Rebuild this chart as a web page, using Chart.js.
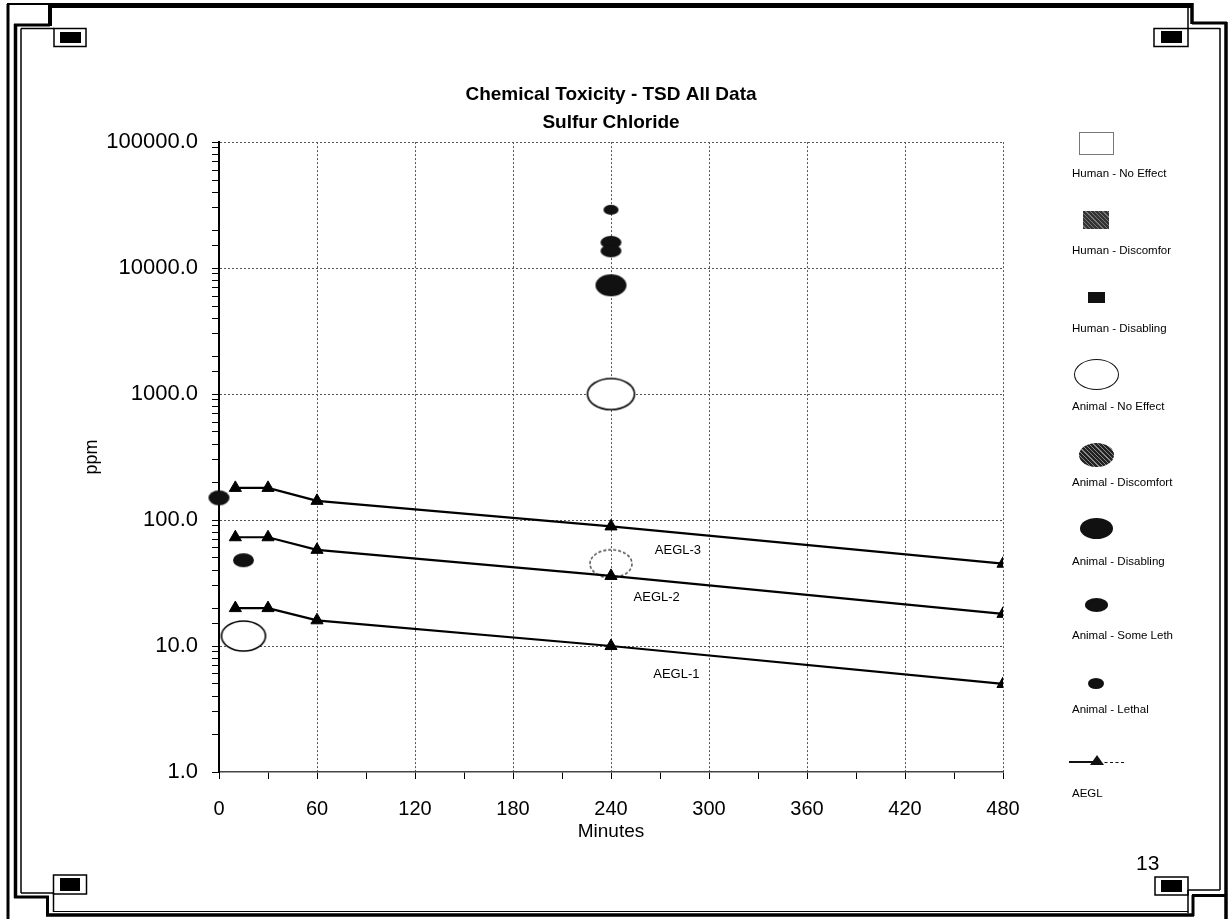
<!DOCTYPE html>
<html>
<head>
<meta charset="utf-8">
<title>Chemical Toxicity - TSD All Data</title>
<script src="https://cdn.jsdelivr.net/npm/chart.js@4.4.1/dist/chart.umd.min.js"></script>
<style>
  html, body { margin: 0; padding: 0; background: #fff; }
  body { width: 1230px; height: 919px; position: relative; overflow: hidden; font-family: Arial, "Liberation Sans", sans-serif; }
  #toxChart { position: absolute; left: 0; top: 0; }
  #frame { position: absolute; left: 0; top: 0; pointer-events: none; }
  .lg-text { position: absolute; left: 1072px; font-size: 11.5px; color: #000; white-space: nowrap; transform: translateY(-50%); }
  .lg-mark { position: absolute; box-sizing: border-box; }
  #pageNo { position: absolute; left: 1136px; top: 851px; font-size: 21px; }
</style>
</head>
<body>
<canvas id="toxChart" width="1230" height="919"></canvas>

<!-- legend (icon above label, like the original) -->
<div class="lg-mark" style="left:1079px;top:132px;width:35px;height:23px;border:1px solid #777;"></div>
<div class="lg-text" style="top:173px;">Human - No Effect</div>
<div class="lg-mark" style="left:1083px;top:211px;width:26px;height:18px;background:repeating-linear-gradient(45deg,#333 0 2px,#777 2px 3px);"></div>
<div class="lg-text" style="top:250px;">Human - Discomfor</div>
<div class="lg-mark" style="left:1088px;top:292px;width:17px;height:11px;background:#111;"></div>
<div class="lg-text" style="top:328px;">Human - Disabling</div>
<div class="lg-mark" style="left:1074px;top:359px;width:45px;height:31px;border:1.5px solid #111;border-radius:50%;"></div>
<div class="lg-text" style="top:406px;">Animal - No Effect</div>
<div class="lg-mark" style="left:1079px;top:443px;width:35px;height:24px;border-radius:50%;background:repeating-linear-gradient(45deg,#222 0 2px,#888 2px 3px);"></div>
<div class="lg-text" style="top:482px;">Animal - Discomfort</div>
<div class="lg-mark" style="left:1080px;top:518px;width:33px;height:21px;border-radius:50%;background:#111;"></div>
<div class="lg-text" style="top:561px;">Animal - Disabling</div>
<div class="lg-mark" style="left:1085px;top:598px;width:23px;height:14px;border-radius:50%;background:#111;"></div>
<div class="lg-text" style="top:635px;">Animal - Some Leth</div>
<div class="lg-mark" style="left:1088px;top:678px;width:16px;height:11px;border-radius:50%;background:#111;"></div>
<div class="lg-text" style="top:709px;">Animal - Lethal</div>
<div class="lg-mark" style="left:1069px;top:761px;width:30px;height:2px;background:#111;"></div>
<div class="lg-mark" style="left:1099px;top:762px;width:25px;height:0;border-top:1px dashed #111;"></div>
<div class="lg-mark" style="left:1090px;top:755px;width:0;height:0;border-left:7px solid transparent;border-right:7px solid transparent;border-bottom:10px solid #111;"></div>
<div class="lg-text" style="top:793px;">AEGL</div>

<div id="pageNo">13</div>

<!-- slide frame -->
<svg id="frame" width="1230" height="919" xmlns="http://www.w3.org/2000/svg" fill="none" stroke="#000">
  <!-- top left -->
  <line x1="8" y1="4" x2="8" y2="919" stroke-width="3"/>
  <line x1="7" y1="4" x2="50" y2="4" stroke-width="2"/>
  <line x1="50" y1="5.5" x2="1193" y2="5.5" stroke-width="5"/>
  <line x1="50" y1="3" x2="50" y2="26" stroke-width="4"/>
  <line x1="14" y1="25" x2="50" y2="25" stroke-width="3"/>
  <line x1="15.5" y1="24" x2="15.5" y2="898" stroke-width="3.5"/>
  <line x1="21" y1="28.5" x2="21" y2="893" stroke-width="1.5"/>
  <line x1="21" y1="28.5" x2="54" y2="28.5" stroke-width="1.5"/>
  <rect x="54" y="28.5" width="32" height="18" stroke-width="1.5"/>
  <rect x="60" y="32" width="21" height="11" fill="#000" stroke="none"/>
  <!-- top right -->
  <line x1="1192" y1="3" x2="1192" y2="24" stroke-width="3.5"/>
  <line x1="1192" y1="23" x2="1227" y2="23" stroke-width="3"/>
  <line x1="1226" y1="22" x2="1226" y2="919" stroke-width="3.5"/>
  <line x1="1188" y1="6" x2="1188" y2="28.5" stroke-width="1.5"/>
  <line x1="1188" y1="28.5" x2="1220" y2="28.5" stroke-width="1.5"/>
  <line x1="1220" y1="28" x2="1220" y2="890" stroke-width="1.5"/>
  <rect x="1154" y="28.5" width="34" height="18" stroke-width="1.5"/>
  <rect x="1161" y="31" width="21" height="12" fill="#000" stroke="none"/>
  <!-- bottom left -->
  <line x1="14" y1="897" x2="49" y2="897" stroke-width="3"/>
  <line x1="47.5" y1="896" x2="47.5" y2="916" stroke-width="3"/>
  <line x1="46" y1="915" x2="1194" y2="915" stroke-width="3.5"/>
  <line x1="21" y1="893" x2="54" y2="893" stroke-width="1.5"/>
  <line x1="53.5" y1="893" x2="53.5" y2="912" stroke-width="1.5"/>
  <line x1="53" y1="911.5" x2="1188" y2="911.5" stroke-width="1"/>
  <rect x="53.5" y="875" width="33" height="19" stroke-width="1.5"/>
  <rect x="60" y="878" width="20" height="13" fill="#000" stroke="none"/>
  <!-- bottom right -->
  <line x1="1193" y1="916" x2="1193" y2="895" stroke-width="3"/>
  <line x1="1192" y1="895.5" x2="1227" y2="895.5" stroke-width="3"/>
  <line x1="1188" y1="890" x2="1220" y2="890" stroke-width="1.5"/>
  <line x1="1188" y1="890" x2="1188" y2="913" stroke-width="1.5"/>
  <rect x="1155" y="877" width="33" height="18" stroke-width="1.5"/>
  <rect x="1161" y="880" width="21" height="12" fill="#000" stroke="none"/>
</svg>

<script>
// ====== Data ======
const aeglMinutes = [10, 30, 60, 240, 480];
const aegl1 = [20, 20, 16, 10, 5];
const aegl2 = [73, 73, 58, 36, 18];
const aegl3 = [180, 180, 142, 89, 45];

const noEffectMinutes = [15, 240, 240];
const noEffectPpm = [12, 1000, 45];
const disablingMinutes = [15, 240];
const disablingPpm = [48, 7300];
const someLethalMinutes = [0, 240, 240];
const someLethalPpm = [150, 16000, 13700];
const lethalMinutes = [240];
const lethalPpm = [29000];

const xTickValues = [0, 60, 120, 180, 240, 300, 360, 420, 480];
const aeglLabels = ["AEGL-3", "AEGL-2", "AEGL-1"];
const aeglLabelMinutes = [281, 268, 280];
const aeglLabelPpm = [57, 24.5, 6];

// ====== Helpers ======
const FONT = 'Arial, "Liberation Sans", sans-serif';
const toPoints = (xs, ys) => xs.map((x, i) => ({ x, y: ys[i] }));
const isPow10 = (v) => Math.abs(Math.log10(v) - Math.round(Math.log10(v))) < 1e-9;

// ellipse markers (Chart.js only has circles)
function ellipseMarker(w, h, fill, stroke, dashed) {
  const c = document.createElement("canvas");
  c.width = w + 4;
  c.height = h + 4;
  const g = c.getContext("2d");
  g.beginPath();
  g.ellipse(c.width / 2, c.height / 2, w / 2, h / 2, 0, 0, Math.PI * 2);
  if (fill) { g.fillStyle = fill; g.fill(); }
  if (stroke) {
    g.lineWidth = 1.6;
    g.strokeStyle = stroke;
    if (dashed) g.setLineDash([3, 2]);
    g.stroke();
  }
  return c;
}

const noEffectMarks = [
  ellipseMarker(44, 30, "#fff", "#000"),
  ellipseMarker(47, 31, "#fff", "#000"),
  ellipseMarker(42, 28, null, "#555", true),
];
const disablingMarks = [ellipseMarker(21, 14, "#111"), ellipseMarker(31, 22, "#111")];
const someLethalMarks = [ellipseMarker(21, 15, "#111"), ellipseMarker(21, 13, "#111"), ellipseMarker(21, 13, "#111")];
const lethalMarks = [ellipseMarker(15, 10, "#111")];

const aeglLine = (label, values) => ({
  type: "line",
  label,
  data: toPoints(aeglMinutes, values),
  borderColor: "#000",
  backgroundColor: "#000",
  borderWidth: 2.2,
  pointStyle: "triangle",
  pointRadius: 7,
  pointBorderWidth: 1,
  showLine: true,
  tension: 0,
});

const scatterSet = (label, xs, ys, marks) => ({
  type: "scatter",
  label,
  data: toPoints(xs, ys),
  pointStyle: marks,
  pointRadius: 8,
  clip: false,
});

// AEGL-n text next to the lines
const aeglTextPlugin = {
  id: "aeglText",
  afterDatasetsDraw(chart) {
    const { ctx, scales } = chart;
    ctx.save();
    ctx.font = "13px " + FONT;
    ctx.fillStyle = "#000";
    ctx.textAlign = "center";
    ctx.textBaseline = "middle";
    aeglLabels.forEach((t, i) => {
      ctx.fillText(t, scales.x.getPixelForValue(aeglLabelMinutes[i]), scales.y.getPixelForValue(aeglLabelPpm[i]));
    });
    ctx.restore();
  },
};

// ====== Chart ======
const ctx = document.getElementById("toxChart").getContext("2d");

new Chart(ctx, {
  data: {
    datasets: [
      aeglLine("AEGL-3", aegl3),
      aeglLine("AEGL-2", aegl2),
      aeglLine("AEGL-1", aegl1),
      scatterSet("Animal - Lethal", lethalMinutes, lethalPpm, lethalMarks),
      scatterSet("Animal - Some Leth", someLethalMinutes, someLethalPpm, someLethalMarks),
      scatterSet("Animal - Disabling", disablingMinutes, disablingPpm, disablingMarks),
      scatterSet("Animal - No Effect", noEffectMinutes, noEffectPpm, noEffectMarks),
    ],
  },
  options: {
    responsive: false,
    animation: false,
    layout: { padding: { left: 0, right: 227, top: 0, bottom: 67 } },
    plugins: {
      legend: { display: false },
      tooltip: { enabled: false },
      title: {
        display: true,
        fullSize: false,
        text: ["Chemical Toxicity - TSD All Data", "Sulfur Chloride"],
        color: "#000",
        font: { family: FONT, size: 19, weight: "bold", lineHeight: 1.45 },
        padding: { top: 81, bottom: 6 },
      },
    },
    scales: {
      x: {
        type: "linear",
        min: 0,
        max: 480,
        afterFit: (scale) => { scale.height = 80; },
        ticks: {
          stepSize: 30,
          autoSkip: false,
          maxRotation: 0,
          color: "#000",
          padding: 18,
          font: { family: FONT, size: 20 },
          callback: (v) => (xTickValues.includes(v) ? v : ""),
        },
        grid: {
          color: (c) => (c.tick && xTickValues.includes(c.tick.value) && c.tick.value > 0 ? "#555" : "rgba(0,0,0,0)"),
          tickColor: "#000",
          tickLength: 7,
        },
        border: { display: true, color: "#444", width: 1.5, dash: [2, 2] },
        title: {
          display: true,
          text: "Minutes",
          color: "#000",
          font: { family: FONT, size: 19 },
          padding: { top: 0, bottom: 9 },
        },
      },
      y: {
        type: "logarithmic",
        min: 1,
        max: 100000,
        afterFit: (scale) => { scale.width = 219; },
        ticks: {
          autoSkip: false,
          color: "#000",
          padding: 14,
          font: { family: FONT, size: 22 },
          callback: (v) => (isPow10(v) ? Number(v).toFixed(1) : ""),
        },
        grid: {
          color: (c) => (c.tick && isPow10(c.tick.value) && c.tick.value > 1 ? "#555" : "rgba(0,0,0,0)"),
          tickColor: "#000",
          tickLength: 7,
        },
        border: { display: true, color: "#000", width: 2, dash: [2, 2] },
        title: {
          display: true,
          text: "ppm",
          color: "#000",
          font: { family: FONT, size: 18 },
          padding: { top: 81, bottom: 0 },
        },
      },
    },
  },
  plugins: [aeglTextPlugin],
});
</script>
</body>
</html>
